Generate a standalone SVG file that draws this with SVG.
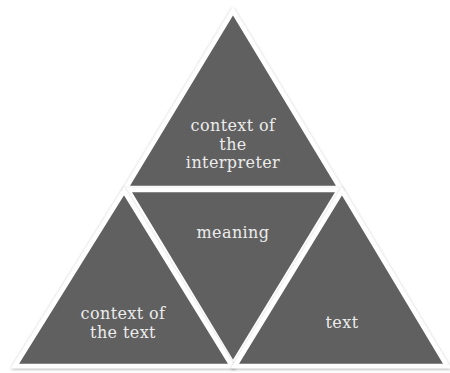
<svg xmlns="http://www.w3.org/2000/svg" width="450" height="373" viewBox="0 0 450 373">
<style>
.tri{fill:#606060;stroke:#ffffff;stroke-width:4.5;stroke-linejoin:miter;filter:url(#sh)}
.lbl{font-family:"DejaVu Serif","Liberation Serif",serif;font-size:16px;fill:#ececec;text-anchor:middle;letter-spacing:0.4px}
</style>
<defs>
<filter id="sh" x="-10%" y="-10%" width="120%" height="120%">
<feDropShadow dx="0" dy="1" stdDeviation="1.6" flood-color="#000" flood-opacity="0.35"/>
</filter>
</defs>
<rect width="450" height="373" fill="#ffffff"/>
<g id="connectors"></g>
<g id="node-interpreter">
<polygon class="tri" points="233,11 126,188 340,188"/>
<text class="lbl" x="233" y="131">context of</text>
<text class="lbl" x="233" y="149.5">the</text>
<text class="lbl" x="233" y="168">interpreter</text>
</g>
<g id="node-meaning">
<polygon class="tri" points="128,190 339,190 233,364"/>
<text class="lbl" x="233" y="238">meaning</text>
</g>
<g id="node-context-text">
<polygon class="tri" points="124,191 15,366 232,366"/>
<text class="lbl" x="123" y="319">context of</text>
<text class="lbl" x="123" y="337.5">the text</text>
</g>
<g id="node-text">
<polygon class="tri" points="342,191 235,366 447,366"/>
<text class="lbl" x="342" y="328">text</text>
</g>
</svg>
